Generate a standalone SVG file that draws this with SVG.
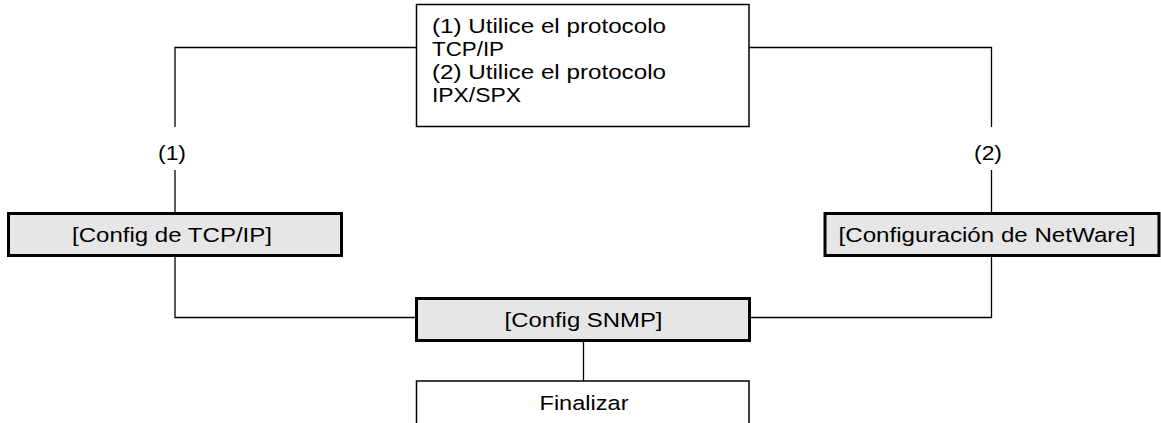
<svg xmlns="http://www.w3.org/2000/svg" width="1161" height="423" viewBox="0 0 1161 423">
<style>
.t{font-family:"Liberation Sans",Arial,sans-serif;font-size:20.5px;fill:#000}
.c{text-anchor:middle}
.thin{fill:#fff;stroke:#000;stroke-width:1.5}
.thick{fill:#e6e6e6;stroke:#000;stroke-width:3}
.ln{fill:none;stroke:#000;stroke-width:1.3}
</style>
<rect width="1161" height="423" fill="#fff"/>
<g id="connectors">
<polyline class="ln" points="416,47.5 175,47.5 175,127"/>
<line class="ln" x1="175" y1="170" x2="175" y2="212"/>
<polyline class="ln" points="749,47.5 991.5,47.5 991.5,127"/>
<line class="ln" x1="991.5" y1="170" x2="991.5" y2="212"/>
<polyline class="ln" points="175,256 175,317.5 416,317.5"/>
<polyline class="ln" points="991.5,256 991.5,317.5 751,317.5"/>
<line class="ln" x1="583.5" y1="341" x2="583.5" y2="381"/>
<text class="t c" x="172" y="159.5" textLength="28" lengthAdjust="spacingAndGlyphs">(1)</text>
<text class="t c" x="988" y="159.5" textLength="28" lengthAdjust="spacingAndGlyphs">(2)</text>
</g>
<g id="node-protocol">
<rect class="thin" x="416.5" y="4.5" width="332.5" height="122"/>
<text class="t" x="432" y="33" textLength="234" lengthAdjust="spacingAndGlyphs">(1) Utilice el protocolo</text>
<text class="t" x="432" y="56" textLength="72" lengthAdjust="spacingAndGlyphs">TCP/IP</text>
<text class="t" x="432" y="79" textLength="234" lengthAdjust="spacingAndGlyphs">(2) Utilice el protocolo</text>
<text class="t" x="432" y="102" textLength="89" lengthAdjust="spacingAndGlyphs">IPX/SPX</text>
</g>
<g id="node-tcpip">
<rect class="thick" x="8.5" y="213.5" width="333" height="42"/>
<text class="t c" x="172" y="242" textLength="200" lengthAdjust="spacingAndGlyphs">[Config de TCP/IP]</text>
</g>
<g id="node-netware">
<rect class="thick" x="825" y="213.5" width="334" height="42"/>
<text class="t c" x="987" y="242" textLength="297" lengthAdjust="spacingAndGlyphs">[Configuración de NetWare]</text>
</g>
<g id="node-snmp">
<rect class="thick" x="416.5" y="298.5" width="333" height="42"/>
<text class="t c" x="583.5" y="327" textLength="158" lengthAdjust="spacingAndGlyphs">[Config SNMP]</text>
</g>
<g id="node-finalizar">
<polyline class="thin" points="416.5,424 416.5,381 749,381 749,424"/>
<text class="t c" x="584" y="409.5" textLength="89" lengthAdjust="spacingAndGlyphs">Finalizar</text>
</g>
</svg>
